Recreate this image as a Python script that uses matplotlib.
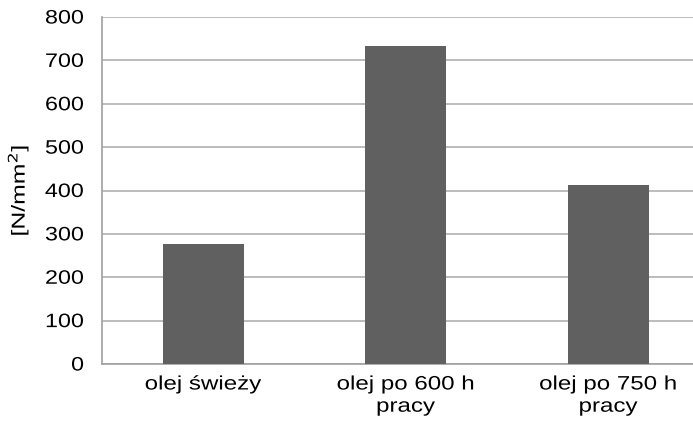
import matplotlib
matplotlib.use("Agg")
import matplotlib.pyplot as plt
from matplotlib.patheffects import AbstractPathEffect
from matplotlib.transforms import Affine2D

categories = ["olej świeży", "olej po 600 h\npracy", "olej po 750 h\npracy"]
values = [276, 734, 413]
yticks = [0, 100, 200, 300, 400, 500, 600, 700, 800]

plt.rcParams['font.family'] = ['Liberation Sans', 'DejaVu Sans']


class Stretch(AbstractPathEffect):
    """Stretch rendered text about an anchor of its own extent."""
    def __init__(self, sx=1.0, sy=1.0, xa='center', ya='center'):
        super().__init__()
        self.sx, self.sy, self.xa, self.ya = sx, sy, xa, ya

    def draw_path(self, renderer, gc, tpath, affine, rgbFace=None):
        v = affine.transform(tpath.vertices)
        if len(v) == 0:
            renderer.draw_path(gc, tpath, affine, rgbFace)
            return
        xmin, xmax = v[:, 0].min(), v[:, 0].max()
        ymin, ymax = v[:, 1].min(), v[:, 1].max()
        x0 = {'center': (xmin + xmax) / 2, 'right': xmax, 'left': xmin}[self.xa]
        y0 = {'center': (ymin + ymax) / 2, 'top': ymax, 'bottom': ymin}[self.ya]
        t = affine + Affine2D().translate(-x0, -y0).scale(self.sx, self.sy).translate(x0, y0)
        renderer.draw_path(gc, tpath, t, rgbFace)


fig = plt.figure(figsize=(6.93, 4.26), dpi=100)
W, H = 693, 426
left, right, top, bottom = 102, 693, 17, 364
ax = fig.add_axes([left / W, 1 - bottom / H, (right - left) / W, (bottom - top) / H])

x = list(range(len(categories)))
ax.bar(x, values, width=0.4, color="#606060", zorder=3)

spacing = 202.5
ax.set_xlim(-0.5, -0.5 + (right - left) / spacing)
ax.set_ylim(0, 800)
ax.set_yticks(yticks)
ax.set_xticks(x)
ax.set_xticklabels(categories, fontsize=14, linespacing=1.4)
ax.tick_params(axis='both', length=0, labelsize=14, colors='black')
ax.tick_params(axis='y', pad=13)
ax.tick_params(axis='x', pad=9)
for lbl in ax.get_yticklabels():
    lbl.set_horizontalalignment('right')
    lbl.set_path_effects([Stretch(sx=1.2, xa='right')])
for lbl in ax.get_xticklabels():
    lbl.set_path_effects([Stretch(sx=1.24, xa='center')])
ax.yaxis.grid(True, color="#b0b0b0", linewidth=1.2, zorder=0)
ax.set_axisbelow(True)
for s in ['top', 'right']:
    ax.spines[s].set_visible(False)
for s in ['left', 'bottom']:
    ax.spines[s].set_color("#a0a0a0")
    ax.spines[s].set_linewidth(1.2)
yl = ax.set_ylabel("[N/mm$^2$]", fontsize=13.5)
yl.set_path_effects([Stretch(sy=1.32, ya='center')])
ax.yaxis.set_label_coords(-(102 - 18) / (right - left), 0.5)
yl.set_verticalalignment('center')

fig.savefig("out.png", dpi=100)
